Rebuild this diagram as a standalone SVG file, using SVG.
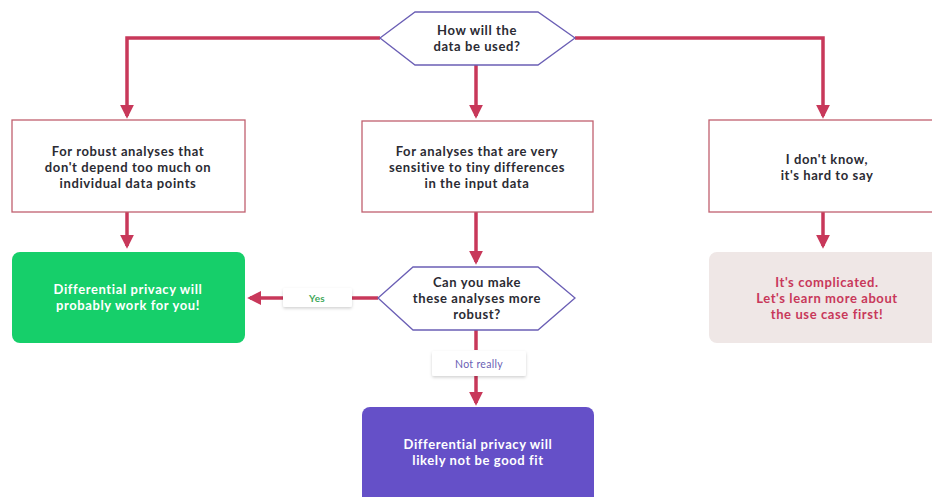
<svg xmlns="http://www.w3.org/2000/svg" width="932" height="497" viewBox="0 0 932 497">
<defs>
<marker id="ah" viewBox="0 0 10 10" refX="8" refY="5" markerWidth="4" markerHeight="4" orient="auto" markerUnits="strokeWidth">
<path d="M0,0 L10,5 L0,10 z" fill="#c8385a"/>
</marker>
<filter id="sh" x="-20%" y="-30%" width="140%" height="180%">
<feDropShadow dx="0" dy="1.5" stdDeviation="1.5" flood-color="#000" flood-opacity="0.18"/>
</filter>
</defs>
<style>
.t{font-family:Lato,"Noto Sans","Liberation Sans",sans-serif;font-size:13px;font-weight:bold;letter-spacing:0.6px;text-anchor:middle;fill:#2b2b33}
.w{fill:#ffffff}
.box{fill:#ffffff;stroke:#c0606f;stroke-width:1.3}
.hex{fill:#ffffff;stroke:#6b5fb5;stroke-width:1.3}
.c{fill:none;stroke:#c8385a;stroke-width:3.5}
.lab{fill:#ffffff;filter:url(#sh)}
</style>
<rect width="932" height="497" fill="#ffffff"/>
<g id="connectors">
<path class="c" d="M380,38 H127 V116" marker-end="url(#ah)"/>
<path class="c" d="M575,38 H823 V116" marker-end="url(#ah)"/>
<path class="c" d="M476,65 V116" marker-end="url(#ah)"/>
<path class="c" d="M127,212 V246" marker-end="url(#ah)"/>
<path class="c" d="M823,212 V246" marker-end="url(#ah)"/>
<path class="c" d="M476,212 V262" marker-end="url(#ah)"/>
<path class="c" d="M378,298 H352"/>
<path class="c" d="M283,298 H250" marker-end="url(#ah)"/>
<path class="c" d="M476,330 V350"/>
<path class="c" d="M476,376 V403" marker-end="url(#ah)"/>
<g id="label-yes">
<rect class="lab" x="283" y="288" width="69" height="19" rx="2"/>
<text class="t" x="317" y="301.5" style="font-size:10px;letter-spacing:0.3px;fill:#3fa85a">Yes</text>
</g>
<g id="label-notreally">
<rect class="lab" x="432" y="351" width="94" height="25" rx="2"/>
<text class="t" x="479" y="367.5" style="font-size:10.5px;letter-spacing:0.3px;font-weight:normal;fill:#6b5fb5">Not really</text>
</g>
</g>
<g id="q1">
<polygon class="hex" points="380,38 415,12 538,12 575,38 538,65 415,65"/>
<text class="t" x="477" y="35">How will the</text>
<text class="t" x="477" y="51">data be used?</text>
</g>
<g id="robust">
<rect class="box" x="12" y="120" width="233" height="92"/>
<text class="t" x="128" y="156">For robust analyses that</text>
<text class="t" x="128" y="172">don't depend too much on</text>
<text class="t" x="128" y="188">individual data points</text>
</g>
<g id="sensitive">
<rect class="box" x="362" y="121" width="231" height="91"/>
<text class="t" x="477" y="156">For analyses that are very</text>
<text class="t" x="477" y="172">sensitive to tiny differences</text>
<text class="t" x="477" y="188">in the input data</text>
</g>
<g id="dontknow">
<rect class="box" x="709" y="120" width="240" height="92"/>
<text class="t" x="827" y="164">I don't know,</text>
<text class="t" x="827" y="180">it's hard to say</text>
</g>
<g id="works">
<rect x="12" y="252" width="233" height="91" rx="8" fill="#16cf6a"/>
<text class="t w" x="128" y="294">Differential privacy will</text>
<text class="t w" x="128" y="310">probably work for you!</text>
</g>
<g id="q2">
<polygon class="hex" points="378,298 413,267 538,267 575,298 538,330 413,330"/>
<text class="t" x="477" y="287">Can you make</text>
<text class="t" x="477" y="303">these analyses more</text>
<text class="t" x="477" y="319">robust?</text>
</g>
<g id="complicated">
<rect x="709" y="252" width="240" height="91" rx="8" fill="#efe7e6"/>
<text class="t" x="827" y="287" style="fill:#c8385a">It's complicated.</text>
<text class="t" x="827" y="303" style="fill:#c8385a">Let's learn more about</text>
<text class="t" x="827" y="319" style="fill:#c8385a">the use case first!</text>
</g>
<g id="notgood">
<rect x="362" y="407" width="232" height="100" rx="8" fill="#6550c8"/>
<text class="t w" x="478" y="449">Differential privacy will</text>
<text class="t w" x="478" y="465">likely not be good fit</text>
</g>
</svg>
